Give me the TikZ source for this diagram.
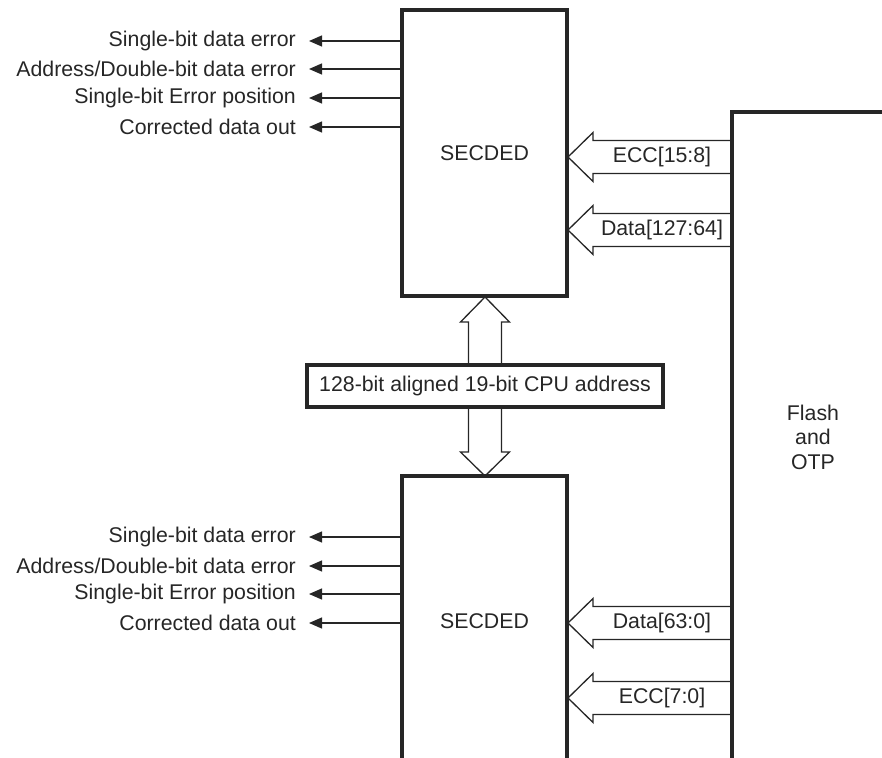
\documentclass[tikz,border=0pt]{standalone}
\usepackage{fontspec}
\setmainfont{Liberation Sans}
\usetikzlibrary{arrows.meta}
\begin{document}
\begin{tikzpicture}[x=1pt,y=-1pt,
  heavy/.style={line width=3.2pt, line join=miter, draw=black!85},
  thin/.style={line width=1.3pt, draw=black!85, line join=miter},
  txt/.style={font=\fontsize{21.3}{24.6}\selectfont, text=black!85, inner sep=0pt},
  outarrow/.style={thin, -{Triangle[length=13pt,width=11pt]}, shorten >=13pt},
  eccbox/.style={heavy, minimum width=165pt, minimum height=286pt, inner sep=0pt, txt}
]
\useasboundingbox (0,0) rectangle (882,757);

% upper SECDED
\node[eccbox, draw] (top) at (484.5,153) {SECDED};
% lower SECDED (open at the bottom)
\coordinate (botNW) at (402,476);
\coordinate (botNE) at (567,476);
\coordinate (botSW) at (402,775);
\coordinate (botSE) at (567,775);
\draw[heavy] (botSW) -- (botNW) -- (botNE) -- (botSE);
\node[txt] (botlbl) at (484.5,621) {SECDED};

% Flash
\coordinate (flB) at (732,775);
\coordinate (flC) at (732,112);
\coordinate (flR) at (895,112);
\draw[heavy] (flB) -- (flC) -- (flR);
\node[txt, align=center] (flash) at (813,437) {Flash\\and\\OTP};

% left outputs, upper
\foreach \y/\t/\n in {41/{Single-bit data error}/a1, 69/{Address/Double-bit data error}/a2,
                      98/{Single-bit Error position}/a3, 127/{Corrected data out}/a4}{
  \node[txt, anchor=east] (\n) at (296,\y) {\t};
  \draw[outarrow] (top.west |- \n) -- (\n.east);
}
% left outputs, lower
\foreach \y/\t/\n in {537/{Single-bit data error}/b1, 566/{Address/Double-bit data error}/b2,
                      594/{Single-bit Error position}/b3, 623/{Corrected data out}/b4}{
  \node[txt, anchor=east] (\n) at (296,\y) {\t};
  \draw[outarrow] (botNW |- \n) -- (\n.east);
}

% wide input arrows from Flash
\foreach \y/\t/\n in {157/{ECC[15:8]}/i1, 230/{Data[127:64]}/i2,
                      623/{Data[63:0]}/i3, 698/{ECC[7:0]}/i4}{
  \node[txt] (\n) at (662,\y) {\t};
  \draw[thin] (732,\y-16.5) -- (593,\y-16.5) -- (593,\y-24.5) -- (568,\y)
              -- (593,\y+24.5) -- (593,\y+16.5) -- (732,\y+16.5);
}

% address box
\node[heavy, draw, txt, minimum width=356pt, minimum height=42pt] (addr) at (485,386)
  {128-bit aligned 19-bit CPU address};

% double arrows
\draw[thin] (468.5,366) -- (468.5,322) -- (460.5,322) -- (485,297) -- (509.5,322)
            -- (501.5,322) -- (501.5,366);
\draw[thin] (468.5,406) -- (468.5,452) -- (460.5,452) -- (485,476) -- (509.5,452)
            -- (501.5,452) -- (501.5,406);
\end{tikzpicture}
\end{document}
